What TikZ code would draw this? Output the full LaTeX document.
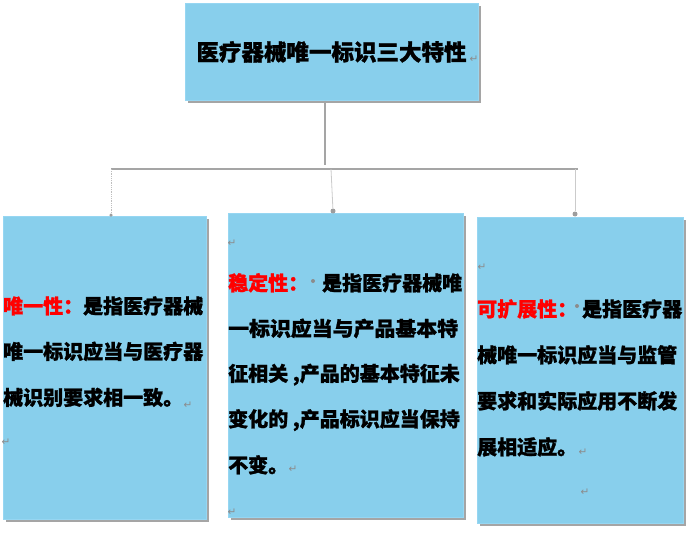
\documentclass[tikz,border=0pt]{standalone}
\usepackage{fontspec}
\newfontfamily\cjk{Noto Sans CJK SC}[BoldFeatures={FakeBold=1.2}]
\newfontfamily\symf{DejaVu Sans}
\usetikzlibrary{shadows}
\definecolor{boxblue}{RGB}{136,207,236}
\definecolor{boxedge}{RGB}{150,214,242}
\definecolor{linegray}{RGB}{165,165,165}
\definecolor{dropgray}{RGB}{190,190,190}
\definecolor{markgray}{RGB}{140,140,140}
\begin{document}
\begin{tikzpicture}[x=1pt,y=-1pt,
  boxstyle/.style={draw=boxedge,fill=boxblue,line width=0.6pt,inner sep=0pt,anchor=north west,
    drop shadow={shadow xshift=3pt,shadow yshift=-3pt,opacity=0.5,fill=black!70}},
  body/.style={font=\cjk\bfseries\fontsize{20}{24}\selectfont,inner sep=0pt,anchor=base west,text=black},
  hot/.style={body,text=red},
  titletext/.style={font=\cjk\bfseries\fontsize{22.5}{26}\selectfont,inner sep=0pt,anchor=base,text=black},
  pmark/.style={font=\symf\fontsize{10.5}{12}\selectfont,text=markgray,inner sep=0pt},
  spacedot/.style={circle,fill=markgray,inner sep=0pt,minimum size=4pt},
  enddot/.style={circle,fill=markgray!85,inner sep=0pt,minimum size=5pt},
  trunk/.style={draw=linegray,line width=2pt},
  bar/.style={draw=linegray,line width=1.8pt},
  drop/.style={draw=dropgray,line width=0.8pt,densely dotted}]
\useasboundingbox (0,0) rectangle (692,532);

% boxes
\node[boxstyle,minimum width=293pt,minimum height=97pt] (top) at (185,3) {};
\node[boxstyle,minimum width=203pt,minimum height=303pt] (b1) at (3,216) {};
\node[boxstyle,minimum width=235pt,minimum height=304pt] (b2) at (228,213) {};
\node[boxstyle,minimum width=206pt,minimum height=306pt] (b3) at (477,217) {};

% connectors
\coordinate (tj) at (325,165);
\coordinate (h1) at (111,169);
\coordinate (h2) at (331,169);
\coordinate (h3) at (578,169);
\coordinate (h3d) at (575,169);
\draw[trunk] (top.south -| tj) -- (tj);
\draw[bar] (h1) -- (h3);
\node[enddot,minimum size=3.5pt] (d1) at (111,215) {};
\node[enddot] (d2) at (333,211) {};
\node[enddot] (d3) at (575,214) {};
\draw[drop] (h1) -- (d1);
\draw[drop,solid,draw=dropgray!80] (h2) -- (d2);
\draw[drop,solid,draw=dropgray!80] (h3d) -- (d3);

% title
\node[titletext] (tt) at (331.5,60.5) {医疗器械唯一标识三大特性};
\node[pmark] (tm) at (474,59) {↵};

% box 1 text
\begin{scope}
\clip (b1.south west) rectangle (b1.north east);
\node[hot] (a1) at (3,313.5) {唯一性：};
\node[body] (a2) at (83,313.5) {是指医疗器械};
\node[body] (a3) at (3,359) {唯一标识应当与医疗器};
\node[body] (a4) at (3,405) {械识别要求相一致。};
\end{scope}
\node[pmark] (am1) at (188,405) {↵};
\node[pmark] (am2) at (6,442) {↵};

% box 2 text
\begin{scope}
\clip (b2.south west) rectangle (b2.north east);
\node[hot] (c1) at (228,290.5) {稳定性：};
\node[spacedot] (cd) at (313,281) {};
\node[body] (c2) at (322,290.5) {是指医疗器械唯};
\node[body] (c3) at (228,336) {\scalebox{1.045}[1]{一标识应当与产品基本特}};
\node[body] (c4) at (228,381) {征相关 ,产品的基本特征未};
\node[body] (c5) at (228,426.5) {变化的 ,产品标识应当保持};
\node[body] (c6) at (228,472.5) {不变。};
\end{scope}
\node[pmark] (cm1) at (232,243) {↵};
\node[pmark] (cm2) at (293,469) {↵};
\node[pmark] (cm3) at (232,512) {↵};

% box 3 text
\begin{scope}
\clip (b3.south west) rectangle (b3.north east);
\node[hot] (e1) at (477,316.5) {可扩展性：};
\node[spacedot] (ed) at (577,306) {};
\node[body] (e2) at (582,316.5) {是指医疗器};
\node[body] (e3) at (477,362.5) {械唯一标识应当与监管};
\node[body] (e4) at (477,408.5) {要求和实际应用不断发};
\node[body] (e5) at (477,454.5) {展相适应。};
\end{scope}
\node[pmark] (em1) at (482,267) {↵};
\node[pmark] (em2) at (583,452) {↵};
\node[pmark] (em3) at (585,492) {↵};
\end{tikzpicture}
\end{document}
